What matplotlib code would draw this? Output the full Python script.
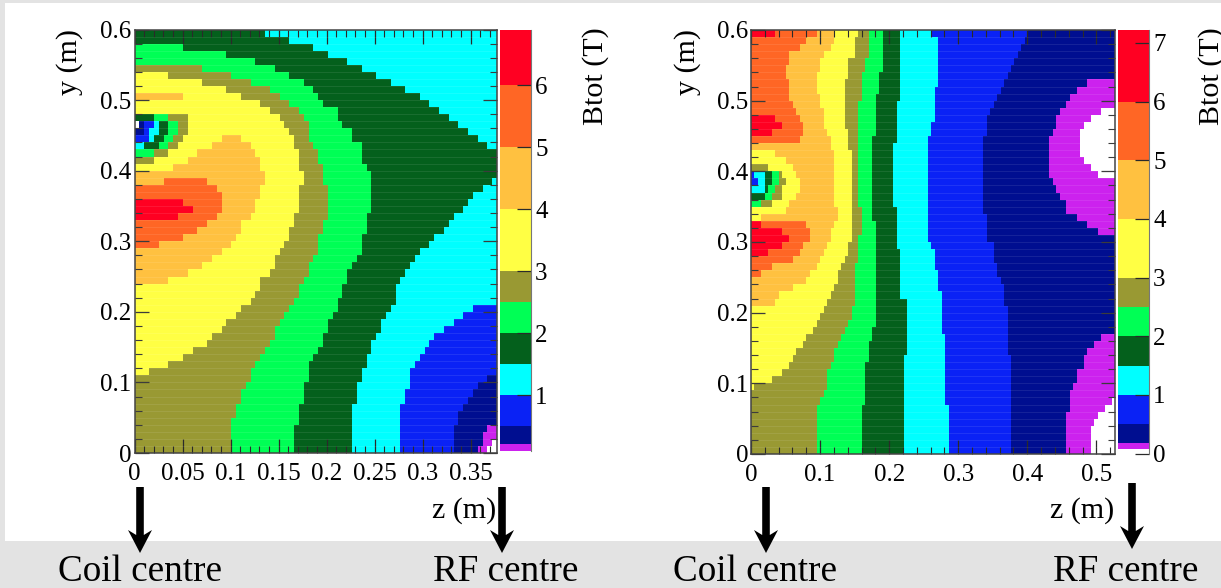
import numpy as np
import matplotlib
matplotlib.use("Agg")
import matplotlib.pyplot as plt
from matplotlib.colors import ListedColormap, BoundaryNorm
from matplotlib.patches import Polygon, Rectangle

plt.rcParams['font.family'] = ['Liberation Serif', 'DejaVu Serif']

W, H = 1221, 588

# band colours, lowest field first (0 is the white area below the scale)
band_colors = ['#FFFFFF', '#CC22EE', '#000E90', '#0A22F5', '#00FFFF', '#04601C',
               '#00FF55', '#999933', '#FFFF44', '#FFC140', '#FF6625', '#FF0022']
WHITE, MAGENTA, NAVY, BLUE, CYAN, DKGREEN, GREEN, OLIVE, YELLOW, ORANGE, DKORANGE, RED = range(12)

# --- left map: per row (y = 0.60 going down in 0.01 steps) the column where each band stops
left_ncols = 75
left_zmax = 0.3776
left_magenta_end = [75] * 58 + [74, 73]
left_navy_end = [75] * 56 + [73, 72, 72, 71]
left_blue_end = [75] * 49 + [73, 71, 70, 69, 68, 67, 67, 66, 66, 66, 66]
left_cyan_end = [75] * 39 + [70, 68, 66, 64, 62, 61, 60, 59, 58, 57, 57, 57, 56, 56, 55, 55, 55, 55, 55, 55, 55]
left_dkgreen_end = [27, 32, 37, 40, 44, 47, 50, 53, 56, 59, 61, 63, 65, 67, 69, 71, 73, 75, 75, 75,
                    75, 74, 72, 70, 69, 68, 66, 65, 64, 62, 61, 59, 58, 57, 56, 55, 54, 54, 54,
                    53, 52, 51, 51, 50, 49, 49, 48, 48, 47, 47, 46, 46, 46, 45, 45, 45, 45, 45, 45, 45]
left_green_end = [0, 0, 10, 19, 25, 29, 32, 35, 37, 38, 39, 42, 42, 43, 45, 45, 47, 47, 47, 48,
                  49, 49, 49, 49, 49, 49, 48, 48, 48, 47, 47, 47, 46, 45, 44, 44, 43, 43, 42, 42,
                  41, 40, 40, 39, 39, 38, 37, 36, 36, 36, 35, 35, 35, 34, 34, 34, 33, 33, 33, 33]
left_olive_end = [0, 0, 0, 0, 0, 14, 20, 24, 28, 30, 32, 34, 35, 36, 36, 36, 37, 38, 38, 39,
                  39, 39, 40, 40, 40, 40, 40, 39, 39, 38, 38, 38, 37, 36, 36, 35, 34, 34, 33, 32,
                  31, 30, 29, 29, 28, 27, 26, 25, 24, 24, 23, 22, 22, 21, 21, 20, 20, 20, 20, 20]
left_yellow_end = [0, 0, 0, 0, 0, 0, 7, 14, 19, 22, 26, 28, 30, 31, 32, 33, 33, 34, 34, 34,
                   35, 35, 34, 34, 34, 34, 33, 33, 32, 32, 31, 30, 29, 29, 28, 26, 26, 25, 24, 22,
                   21, 19, 18, 16, 15, 12, 10, 7, 3] + [0] * 11
left_orange_end = [0] * 9 + [10, 0, 0, 0, 0, 0, 22, 24, 25, 26, 26,
                             27, 27, 26, 26, 25, 25, 24, 22, 22, 21, 20, 18, 16, 14, 11, 7] + [0] * 24
left_dkorange_end = [0] * 21 + [15, 17, 18, 18, 18, 17, 15, 13, 10, 5] + [0] * 29
left_red_end = [0] * 24 + [10, 12, 9] + [0] * 33
# small pockets that break the left-to-right order: (row, first col, last col, band)
left_pockets = [(15, 0, 18, YELLOW), (16, 0, 16, YELLOW), (17, 0, 13, YELLOW), (18, 0, 11, YELLOW),
                (19, 0, 8, YELLOW), (21, 0, 6, ORANGE),
                (12, 0, 4, DKGREEN), (12, 4, 7, GREEN), (12, 7, 11, OLIVE),
                (13, 0, 1, WHITE), (13, 1, 2, NAVY), (13, 2, 4, BLUE), (13, 4, 5, CYAN), (13, 5, 7, DKGREEN),
                (13, 7, 9, GREEN), (13, 9, 11, OLIVE),
                (14, 0, 2, NAVY), (14, 2, 3, BLUE), (14, 3, 5, CYAN), (14, 5, 7, DKGREEN), (14, 7, 9, GREEN),
                (14, 9, 11, OLIVE),
                (15, 0, 3, BLUE), (15, 3, 4, CYAN), (15, 4, 6, DKGREEN), (15, 6, 8, GREEN), (15, 8, 10, OLIVE),
                (16, 0, 2, CYAN), (16, 2, 5, DKGREEN), (16, 5, 7, GREEN), (16, 7, 9, OLIVE),
                (17, 0, 4, GREEN), (17, 4, 7, OLIVE), (18, 0, 4, OLIVE)]
left_cbar_levels = [0.1, 0.21, 0.5, 1, 1.5, 2, 2.5, 3, 4, 5, 6, 6.9]
left_cbar_bands = [MAGENTA, NAVY, BLUE, CYAN, DKGREEN, GREEN, OLIVE, YELLOW, ORANGE, DKORANGE, RED]
left_cbar_ticks = [1, 2, 3, 4, 5, 6]
left_z_ticks = [0, 0.05, 0.1, 0.15, 0.2, 0.25, 0.3, 0.35]
left_z_labels = ['0', '0.05', '0.1', '0.15', '0.2', '0.25', '0.3', '0.35']

# --- right map
right_ncols = 105
right_zmax = 0.527
right_magenta_end = [105] * 11 + [101, 98, 96, 95, 95, 95, 95, 96, 98, 100] + [105] * 31 + [104, 102, 100, 99, 98, 98, 98, 98]
right_navy_end = [105] * 7 + [97, 94, 92, 91, 89, 88, 88, 87, 86, 86, 86, 86, 86, 86, 87, 88, 89, 91, 91, 94, 97, 100] \
    + [105] * 14 + [101, 99, 97, 96, 96, 94, 94, 93, 92, 92, 92, 91, 91, 91, 91, 91, 91]
right_blue_end = [80, 79, 78, 77, 76, 75, 74, 73, 72, 71, 70, 69, 68, 68, 68] + [67] * 11 + [68, 68, 68, 68] \
    + [70, 70, 70, 71, 71, 72, 73, 73, 73] + [74] * 7 + [75] * 14
right_cyan_end = [52] + [54] * 7 + [53] * 5 + [52] * 2 + [51] * 15 + [52] + [53] * 3 + [54] * 3 + [55] * 6 + [56] * 10 + [57] * 7
right_dkgreen_end = [43] * 10 + [42] * 6 + [41] * 9 + [42] * 6 + [43] * 7 + [45] * 8 + [44] * 14
right_green_end = [38] * 6 + [37] * 3 + [36] * 6 + [35] * 12 + [36] * 15 + [35] * 2 + [34] * 3 + [33] * 6 + [32] * 7
right_olive_end = [34] * 4 + [33] * 2 + [32] * 4 + [31] * 15 + [32] * 4 + [31] * 4 + [30] * 6 \
    + [29, 29, 28, 27, 26, 25, 24, 24, 23, 22, 22, 22, 21, 20, 19] + [19] * 6
right_yellow_end = [31, 30, 30, 30, 28, 28, 28] + [27] * 7 + [28] * 3 + [29] * 13 + [28, 28] \
    + [27, 26, 25, 25, 24, 23, 22, 21, 20, 19, 18, 16, 15, 13, 12, 11, 9, 6, 1] + [0] * 9
right_orange_end = [24, 24, 23, 21, 20, 20, 19, 19, 19, 20, 20, 21, 21, 21, 22, 23, 23, 24, 24, 24,
                    24, 24, 24, 24, 24, 25, 25, 24, 23, 23, 22, 21, 20, 19, 17, 16, 12, 8, 7] + [0] * 21
right_dkorange_end = [19, 16, 14, 11, 11, 10, 10, 11, 11, 11, 12, 13, 14, 15, 15, 14] + [0] * 11 \
    + [16, 17, 17, 15, 14, 12, 6, 3] + [0] * 25
right_red_end = [7] + [0] * 11 + [7, 9, 6] + [0] * 12 + [3, 9, 11, 9, 5] + [0] * 28
right_pockets = [(17, 0, 7, YELLOW), (18, 0, 10, YELLOW), (19, 0, 12, YELLOW), (20, 0, 13, YELLOW), (21, 0, 14, YELLOW),
                 (22, 0, 14, YELLOW), (23, 0, 13, YELLOW), (24, 0, 11, YELLOW), (25, 0, 10, YELLOW), (26, 0, 3, YELLOW),
                 (19, 0, 5, OLIVE),
                 (20, 0, 1, BLUE), (20, 1, 4, CYAN), (20, 4, 6, DKGREEN), (20, 6, 8, GREEN), (20, 8, 9, OLIVE),
                 (21, 0, 2, BLUE), (21, 2, 4, CYAN), (21, 4, 6, DKGREEN), (21, 6, 8, GREEN), (21, 8, 10, OLIVE),
                 (22, 0, 4, CYAN), (22, 4, 5, DKGREEN), (22, 5, 7, GREEN), (22, 7, 9, OLIVE),
                 (23, 0, 4, DKGREEN), (23, 4, 6, GREEN), (23, 6, 9, OLIVE),
                 (24, 0, 3, GREEN), (24, 3, 6, OLIVE)]
right_cbar_levels = [0.08, 0.18, 0.5, 1, 1.5, 2, 2.5, 3, 4, 5, 6, 7.23]
right_cbar_bands = left_cbar_bands
right_cbar_ticks = [0, 1, 2, 3, 4, 5, 6, 7]
right_z_ticks = [0, 0.1, 0.2, 0.3, 0.4, 0.5]
right_z_labels = ['0', '0.1', '0.2', '0.3', '0.4', '0.5']

y_ticks = [0, 0.1, 0.2, 0.3, 0.4, 0.5, 0.6]
y_labels = ['0', '0.1', '0.2', '0.3', '0.4', '0.5', '0.6']

cmap = ListedColormap(band_colors)
norm = BoundaryNorm(np.arange(-0.5, 12.5), 12)
INK = '#2a2a2a'


def px_axes(fig, left, top, right, bottom):
    return fig.add_axes([left / W, 1 - bottom / H, (right - left) / W, (bottom - top) / H])


def build_grid(ncols, edges, pockets):
    grid = np.zeros((60, ncols), dtype=int)
    cols = np.arange(ncols)
    for r in range(60):
        for e in edges:
            grid[r] += cols < e[r]
    for r, c0, c1, band in pockets:
        grid[r, c0:c1] = band
    return grid


def draw_map(ax, grid, zmax, zticks, zlabels, minor_step):
    z_edges = np.linspace(0, zmax, grid.shape[1] + 1)
    y_edges = np.linspace(0.6, 0, 61)
    ax.pcolormesh(z_edges, y_edges, grid, cmap=cmap, norm=norm, linewidth=0, antialiased=False)
    # faint seams between the rows, as in the printed map
    ax.hlines(y_edges[1:-1], 0, zmax, colors='white', linewidth=0.5, alpha=0.12)
    ax.set_xlim(0, zmax)
    ax.set_ylim(0, 0.6)
    ax.set_xticks(zticks)
    ax.set_xticklabels(zlabels)
    ax.set_yticks(y_ticks)
    ax.set_yticklabels(y_labels)
    ax.set_xticks(np.arange(0, zmax, minor_step), minor=True)
    ax.set_yticks(np.arange(0, 0.6, 0.02), minor=True)
    ax.tick_params(which='major', direction='in', top=True, right=True, length=10, width=0.9,
                   color=INK, labelsize=18, pad=2)
    ax.tick_params(axis='x', which='major', pad=7)
    ax.tick_params(which='minor', direction='in', top=True, right=True, length=5, width=0.8, color=INK)
    for s in ax.spines.values():
        s.set_color('#444444')
        s.set_linewidth(1.1)


def draw_cbar(ax, levels, bands, ticks, ymin):
    ax.pcolormesh([0, 1], levels, np.array(bands).reshape(-1, 1), cmap=cmap, norm=norm)
    ax.set_xlim(0, 1)
    ax.set_ylim(ymin, levels[-1])
    ax.set_xticks([])
    ax.yaxis.tick_right()
    ax.set_yticks(ticks)
    ax.tick_params(axis='y', direction='in', length=10, width=0.9, color=INK, labelsize=18, pad=3)
    for name, s in ax.spines.items():
        s.set_visible(name == 'right')
    ax.spines['right'].set_color('#777777')
    ax.patch.set_alpha(0)


def down_arrow(fig, x, y0, y1):
    shaft, head, head_h, notch = 3.8, 12, 23, 5
    pts = [(x - shaft, y0), (x + shaft, y0), (x + shaft, y1 - head_h + notch), (x + head, y1 - head_h),
           (x, y1), (x - head, y1 - head_h), (x - shaft, y1 - head_h + notch), (x - shaft, y0)]
    pts = [(px / W, 1 - py / H) for px, py in pts]
    fig.add_artist(Polygon(pts, closed=True, facecolor='black', edgecolor='none',
                           transform=fig.transFigure, zorder=5))


def label(fig, x, y, s, size=21.6, rotation=0):
    fig.text(x / W, 1 - y / H, s, fontsize=size, rotation=rotation, ha='center', va='center', zorder=6)


fig = plt.figure(figsize=(W / 100, H / 100), dpi=100, facecolor='white')

# grey slide background around the white area
grey = '#E3E3E3'
for x, y, w, h in [(0, 0, W, 3), (0, 0, 5, 541), (0, 541, W, 47)]:
    fig.add_artist(Rectangle((x / W, 1 - (y + h) / H), w / W, h / H, facecolor=grey, edgecolor='none',
                             transform=fig.transFigure, zorder=-5))

left_edges = [left_magenta_end, left_navy_end, left_blue_end, left_cyan_end, left_dkgreen_end, left_green_end,
              left_olive_end, left_yellow_end, left_orange_end, left_dkorange_end, left_red_end]
right_edges = [right_magenta_end, right_navy_end, right_blue_end, right_cyan_end, right_dkgreen_end, right_green_end,
               right_olive_end, right_yellow_end, right_orange_end, right_dkorange_end, right_red_end]

ax1 = px_axes(fig, 134.5, 29.5, 497, 453)
draw_map(ax1, build_grid(left_ncols, left_edges, left_pockets), left_zmax, left_z_ticks, left_z_labels, 0.01)
cb1 = px_axes(fig, 500, 29.5, 531, 451)
draw_cbar(cb1, left_cbar_levels, left_cbar_bands, left_cbar_ticks, 0.1)

ax2 = px_axes(fig, 751, 30, 1115, 454)
draw_map(ax2, build_grid(right_ncols, right_edges, right_pockets), right_zmax, right_z_ticks, right_z_labels, 0.02)
cb2 = px_axes(fig, 1118, 29.5, 1149, 453.5)
draw_cbar(cb2, [0] + right_cbar_levels, [WHITE] + right_cbar_bands, right_cbar_ticks, 0)

label(fig, 70, 62, 'y (m)', rotation=90)
label(fig, 596, 76, 'Btot (T)', rotation=90)
label(fig, 464, 511, 'z (m)')
label(fig, 688, 62, 'y (m)', rotation=90)
label(fig, 1212, 76, 'Btot (T)', rotation=90)
label(fig, 1082, 511, 'z (m)')

down_arrow(fig, 140, 487, 553)
down_arrow(fig, 502, 487, 553)
down_arrow(fig, 766, 487, 553)
down_arrow(fig, 1132, 483, 549)

label(fig, 140, 572, 'Coil centre', size=26.7)
label(fig, 506, 572, 'RF centre', size=26.7)
label(fig, 755, 572, 'Coil centre', size=26.7)
label(fig, 1126, 572, 'RF centre', size=26.7)

fig.savefig('out.png', dpi=100, facecolor=fig.get_facecolor())
